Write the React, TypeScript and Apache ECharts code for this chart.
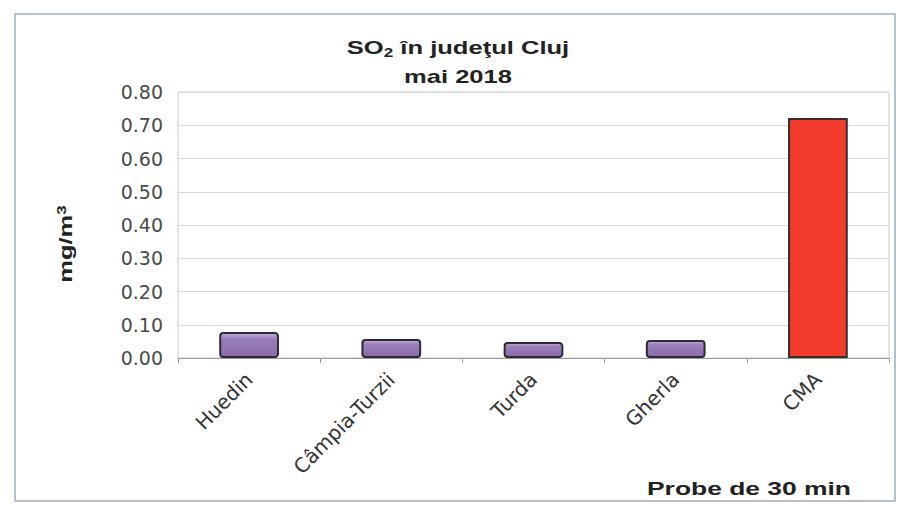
import React, { useEffect, useRef } from "react";
import * as echarts from "echarts";

const categories = ["Huedin", "Câmpia-Turzii", "Turda", "Gherla", "CMA"];
const values = [0.078, 0.057, 0.048, 0.054, 0.722];
const yTicks = [0, 0.1, 0.2, 0.3, 0.4, 0.5, 0.6, 0.7, 0.8];

const purple = new echarts.graphic.LinearGradient(0, 0, 0, 1, [
  { offset: 0, color: "#c3aed6" },
  { offset: 0.25, color: "#9a7ebb" },
  { offset: 1, color: "#8a6aab" },
]);

const boldRich = {
  a: { fontFamily: "Liberation Sans", fontWeight: "bold", fontSize: 18, fill: "#222", color: "#222" },
  sub: { fontFamily: "Liberation Sans", fontWeight: "bold", fontSize: 12, fill: "#222", color: "#222", padding: [9, 0, 0, 0] },
  sup: { fontFamily: "Liberation Sans", fontWeight: "bold", fontSize: 12, fill: "#222", color: "#222", padding: [0, 0, 9, 0] },
};

export default function App() {
  const ref = useRef<HTMLDivElement>(null);
  useEffect(() => {
    if (!ref.current) return;
    const chart = echarts.init(ref.current, null, { renderer: "svg" });
    chart.setOption({
      animation: false,
      backgroundColor: "#ffffff",
      grid: { left: 178, right: 12, top: 92, bottom: 152, show: true, borderColor: "#c8ccd6", borderWidth: 1 },
      xAxis: {
        type: "category",
        data: categories,
        axisLine: { lineStyle: { color: "#9a9a9a" } },
        axisTick: { show: true, lineStyle: { color: "#9a9a9a" } },
        axisLabel: { rotate: 45, fontFamily: "DejaVu Sans", fontSize: 20, color: "#333", margin: 18, interval: 0 },
      },
      yAxis: {
        type: "value",
        min: yTicks[0],
        max: yTicks[yTicks.length - 1],
        interval: 0.1,
        axisLine: { show: false },
        axisTick: { show: false },
        splitLine: { lineStyle: { color: "#d6d9df" } },
        axisLabel: {
          fontFamily: "DejaVu Sans",
          fontSize: 19,
          color: "#4a4a4a",
          margin: 15,
          formatter: (v: number) => v.toFixed(2),
        },
      },
      series: [
        {
          type: "bar",
          barWidth: "42%",
          data: values.map((v, i) => ({
            value: v,
            itemStyle:
              i === values.length - 1
                ? { color: "#f23b2c", borderColor: "#3a2a2a", borderWidth: 2 }
                : { color: purple, borderColor: "#2e2a33", borderWidth: 2, borderRadius: 3 },
          })),
        },
      ],
      graphic: [
        {
          type: "rect",
          shape: { x: 15, y: 14, width: 880, height: 487 },
          style: { fill: "none", stroke: "#9fa9c2", lineWidth: 1.5 },
          silent: true,
        },
        {
          type: "text",
          x: 458,
          y: 48,
          scaleX: 1.42,
          style: {
            text: "{a|SO}{sub|2}{a| în judeţul Cluj}",
            rich: boldRich,
            align: "center",
            verticalAlign: "middle",
          },
        },
        {
          type: "text",
          x: 458,
          y: 77,
          scaleX: 1.42,
          style: {
            text: "mai 2018",
            fontFamily: "Liberation Sans",
            fontWeight: "bold",
            fontSize: 18,
            fill: "#222",
            align: "center",
            verticalAlign: "middle",
          },
        },
        {
          type: "text",
          x: 66,
          y: 244,
          rotation: Math.PI / 2,
          scaleX: 1.42,
          style: {
            text: "{a|mg/m}{sup|3}",
            rich: boldRich,
            align: "center",
            verticalAlign: "middle",
          },
        },
        {
          type: "text",
          x: 647,
          y: 488,
          scaleX: 1.39,
          style: {
            text: "Probe de 30 min",
            fontFamily: "Liberation Sans",
            fontWeight: "bold",
            fontSize: 19,
            fill: "#222",
            align: "left",
            verticalAlign: "middle",
          },
        },
      ],
    });
    return () => chart.dispose();
  }, []);
  return <div ref={ref} style={{ width: 901, height: 510, position: "absolute", left: 0, top: 0 }} />;
}
